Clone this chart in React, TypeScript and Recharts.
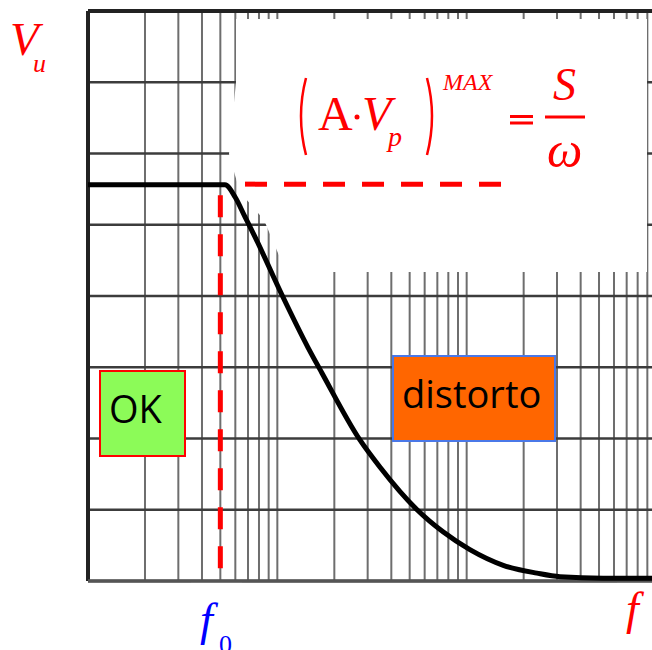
import React from 'react';
import {
  LineChart, Line, XAxis, YAxis, CartesianGrid, ReferenceLine, Customized,
} from 'recharts';

// log-log style paper: three decades of frequency, eight level divisions
const FREQ_TICKS = [
  1, 2, 3, 4, 5, 6, 7, 8, 9,
  10, 20, 30, 40, 50, 60, 70, 80, 90,
  100, 200, 300, 400, 500, 600, 700, 800, 900, 1000,
];
const LEVEL_TICKS = [0, 1, 2, 3, 4, 5, 6, 7, 8];

// output amplitude vs frequency (flat up to f0, then slew-rate limited)
const freq = [1, 5.29, 5.98, 6.75, 7.62, 10.6, 14.5, 17.2, 27.3, 34.8, 54.7, 75, 104, 156, 235, 311, 525, 1000];
const vout = [5.56, 5.56, 5.39, 5.11, 4.83, 4.01, 3.28, 2.92, 1.98, 1.6, 1.0, 0.69, 0.44, 0.22, 0.11, 0.06, 0.04, 0.04];

const F0 = 5;
const VU_MAX = 5.57;
const F0_LINE = [0.18, 5.45];
const MAX_LINE = [6.75, 160];

const curve = freq.map((f, i) => ({ f, v: vout[i] }));

const RED = '#ff0000';
const MATH = '"Liberation Serif", "DejaVu Serif", serif';
const SANS = '"Open Sans", sans-serif';

const Overlay = () => (
  <g>
    {/* white text box sitting on top of the paper */}
    <polygon
      points="236,19 647,19 647,272 286,272 264,220 240,192 232,165 229,154 236,82"
      fill="#fff"
    />
    {/* gaps in the bottom edge left by the axis labels */}
    <rect x={191} y={582.5} width={51} height={5} fill="#fff" />
    <rect x={617} y={582.5} width={45} height={5} fill="#fff" />
  </g>
);

const Labels = () => (
  <g>
    <text x={10} y={55} fontFamily={MATH} fontStyle="italic" fontSize={47} fill={RED}>V</text>
    <text x={33} y={72} fontFamily={MATH} fontStyle="italic" fontSize={26} fill={RED}>u</text>

    <text x={200} y={635} fontFamily={MATH} fontStyle="italic" fontSize={46} fill="#0000ff">f</text>
    <text x={219} y={653} fontFamily={MATH} fontSize={26} fill="#0000ff">0</text>

    <text x={626} y={624} fontFamily={MATH} fontStyle="italic" fontSize={46} fill={RED}>f</text>

    {/* (A·Vp)^MAX = S/ω */}
    <path d="M306,78 Q296,116 306,155" stroke={RED} strokeWidth={2.5} fill="none" />
    <text x={318} y={130} fontFamily={MATH} fontSize={48} fill={RED}>A</text>
    <circle cx={357} cy={117} r={2.5} fill={RED} />
    <text x={362} y={130} fontFamily={MATH} fontStyle="italic" fontSize={48} fill={RED}>V</text>
    <text x={388} y={146} fontFamily={MATH} fontStyle="italic" fontSize={28} fill={RED}>p</text>
    <path d="M427,78 Q437,116 427,155" stroke={RED} strokeWidth={2.5} fill="none" />
    <text x={443} y={90} fontFamily={MATH} fontStyle="italic" fontSize={24} fill={RED}>MAX</text>
    <line x1={510} x2={533} y1={116.5} y2={116.5} stroke={RED} strokeWidth={3} />
    <line x1={510} x2={533} y1={123} y2={123} stroke={RED} strokeWidth={3} />
    <text x={553} y={100} fontFamily={MATH} fontStyle="italic" fontSize={46} fill={RED}>S</text>
    <line x1={545} x2={585} y1={117} y2={117} stroke={RED} strokeWidth={3} />
    <text x={547} y={167} fontFamily={MATH} fontStyle="italic" fontSize={50} fill={RED}>ω</text>

    {/* region boxes */}
    <rect x={100} y={371} width={85} height={85} fill="#8cfb58" stroke={RED} strokeWidth={2} />
    <text x={109} y={423} fontFamily={SANS} fontSize={38} fill="#000">OK</text>
    <rect x={393} y={356} width={162} height={85} fill="#ff6600" stroke="#4a78e8" strokeWidth={2} />
    <text x={402} y={408} fontFamily={SANS} fontSize={38} fill="#000">distorto</text>
  </g>
);

export default function App() {
  return (
    <div
      style={{
        position: 'absolute', left: 0, top: 0, width: 652, height: 650,
        overflow: 'hidden', background: '#fff',
      }}
    >
      <LineChart
        width={660}
        height={650}
        data={curve}
        margin={{ top: 11, right: 4, bottom: 69, left: 88 }}
      >
        <XAxis
          dataKey="f"
          type="number"
          scale="log"
          domain={[1, 1000]}
          ticks={FREQ_TICKS}
          interval={0}
          allowDataOverflow
          hide
        />
        <YAxis type="number" domain={[0, 8]} ticks={LEVEL_TICKS} interval={0} hide />
        <CartesianGrid horizontal={false} stroke="#6e6e6e" strokeWidth={2} />
        <CartesianGrid vertical={false} stroke="#3c3c3c" strokeWidth={2.4} />
        <Customized component={<Overlay />} />
        <ReferenceLine x={1} stroke="#222" strokeWidth={4} />
        <ReferenceLine y={8} stroke="#222" strokeWidth={4} />
        <ReferenceLine y={0} stroke="#555" strokeWidth={3.5} />
        <Line
          dataKey="v"
          type="monotone"
          stroke="#000"
          strokeWidth={5}
          dot={false}
          isAnimationActive={false}
        />
        <ReferenceLine
          segment={[{ x: F0, y: F0_LINE[0] }, { x: F0, y: F0_LINE[1] }]}
          stroke={RED}
          strokeWidth={5}
          strokeDasharray="22 17"
        />
        <ReferenceLine
          segment={[{ x: MAX_LINE[0], y: VU_MAX }, { x: MAX_LINE[1], y: VU_MAX }]}
          stroke={RED}
          strokeWidth={5}
          strokeDasharray="22 17"
        />
        <Customized component={<Labels />} />
      </LineChart>
    </div>
  );
}
